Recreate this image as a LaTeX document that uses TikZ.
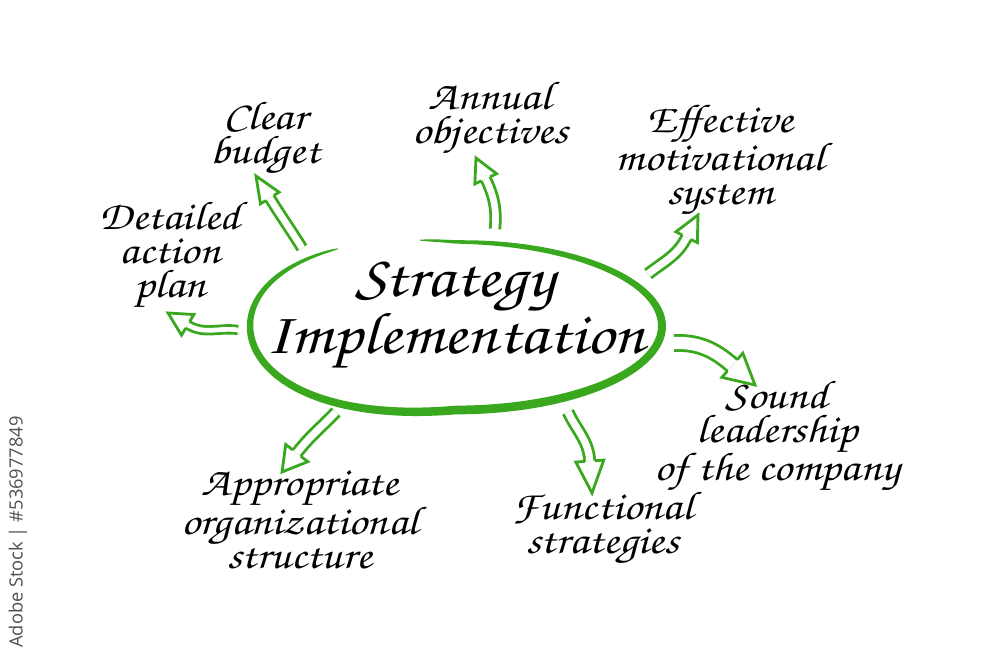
\documentclass[tikz,border=0pt]{standalone}
\usepackage{fontspec}
\setmainfont{TeX Gyre Chorus}[FakeStretch=1.15]
\newfontfamily\wmfont{Open Sans}
\definecolor{brgreen}{RGB}{58,168,30}
\definecolor{wmgray}{RGB}{80,80,80}
\newcommand\harrow[7]{%
  \pgfmathsetmacro\hinang{#4+180}%
  \pgfmathsetmacro\hdd{(#7-2.8)*0.7113}%
  \begin{scope}[shift={(#2)},rotate=#4]
    \coordinate (hb) at (-#5,0);
    \draw[headline] (-#5,#7/2) -- (-#5,#6) -- (0,0) -- (-#5,-#6) -- (-#5,-#7/2);
  \end{scope}
  \draw[shaftline,double distance=\hdd pt] (#1) to[out=#3,in=\hinang] (hb);
}
\newcommand\HW{(0.5+3.9*sqrt(abs(sin((\t-125)*0.53731))))}
\newcommand\RY{(84+18*max(0,-cos(\t)))}
\begin{document}
\begin{tikzpicture}[x=0.025cm,y=0.025cm,
  lbl/.style={align=center,inner sep=0pt,font=\fontsize{28.5}{24.3}\selectfont},
  title/.style={align=center,inner sep=0pt,font=\fontsize{42}{33}\selectfont},
  shaftline/.style={draw=brgreen,line width=2pt,double=white},
  headline/.style={draw=brgreen,line width=2pt,line join=miter}
]
\fill[white] (0,0) rectangle (1000,655);
\useasboundingbox (0,0) rectangle (1000,655);

% central brush ellipse
\fill[brgreen] plot[domain=125:460,samples=140,variable=\t]
   ({456+(206+\HW)*cos(\t)},{329+(\RY+\HW)*sin(\t)})
   -- plot[domain=460:125,samples=140,variable=\t]
   ({456+(206-\HW)*cos(\t)},{329+(\RY-\HW)*sin(\t)}) -- cycle;

\node[title] (center) at (455,340) {Strategy\\Implementation};

% labels
\node[lbl] (budget)  at (265,517) {Clear\\budget};
\node[lbl] (annual)  at (490,537) {Annual\\objectives};
\node[lbl] (motiv)   at (720,495) {Effective\\motivational\\system};
\node[lbl] (plan)    at (170,400) {Detailed\\action\\plan};
\node[lbl] (lead)    at (777,219) {Sound\\leadership\\of the company};
\node[lbl] (func)    at (603,127) {Functional\\strategies};
\node[lbl] (struct)  at (300,135) {Appropriate\\organizational\\structure};

% arrow end points
\coordinate (sBudget) at (302,407); \coordinate (tBudget) at (256,479);
\coordinate (sAnnual) at (495,426); \coordinate (tAnnual) at (476,497);
\coordinate (sMotiv)  at (648,381); \coordinate (tMotiv)  at (698,440);
\coordinate (sLead)   at (674,312); \coordinate (tLead)   at (755,270);
\coordinate (sFunc)   at (568,243); \coordinate (tFunc)   at (592,162);
\coordinate (sStruct) at (336,243); \coordinate (tStruct) at (282,183);
\coordinate (sPlan)   at (238,325); \coordinate (tPlan)   at (168,342);

\harrow{sBudget}{tBudget}{122}{122}{26}{11}{9.5}
\harrow{sAnnual}{tAnnual}{85}{115}{23}{12}{9.5}
\harrow{sMotiv}{tMotiv}{38}{63}{25}{12}{10}
\harrow{sLead}{tLead}{2}{-41}{30}{16}{15}
\harrow{sFunc}{tFunc}{-65}{-86}{32}{14}{10}
\harrow{sStruct}{tStruct}{226}{232}{24}{14}{10}
\harrow{sPlan}{tPlan}{172}{149}{23}{12}{7.5}

% watermark text
\node[rotate=90,text=wmgray,font=\wmfont\fontsize{13}{15}\selectfont,inner sep=0pt] (wm) at (18,123) {Adobe Stock | \#536977849};
\end{tikzpicture}
\end{document}
